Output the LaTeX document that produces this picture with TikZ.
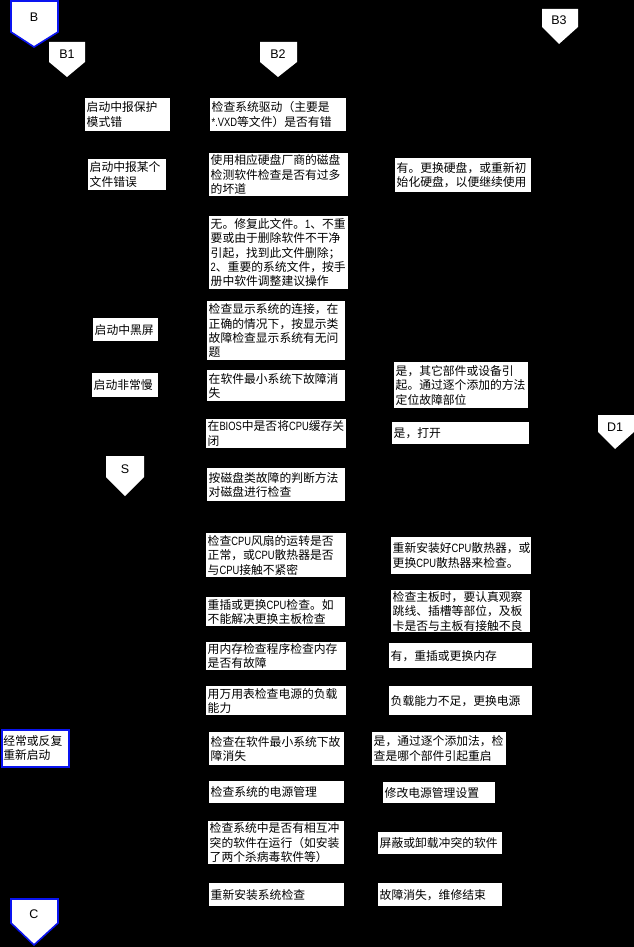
\documentclass[tikz,border=0pt]{standalone}
\usepackage{fontspec}
\usepackage{tikz}
\usetikzlibrary{positioning, calc}
\newfontfamily\cjk{Noto Sans CJK SC}
\newfontfamily\labelfont{Liberation Sans}
\newfontfamily\halfwidth[FakeStretch=0.78]{Liberation Sans}
\newcommand{\hw}[1]{{\halfwidth\fontsize{12}{14.4}\selectfont #1}}
\definecolor{pageblack}{HTML}{000000}
\definecolor{flowblue}{HTML}{0A14F0}

\tikzset{
  stepbox/.style={fill=white, anchor=north west, inner xsep=1.5pt, inner ysep=0pt,
    align=left, text width=#1-3pt, font=\cjk\fontsize{11.8}{14.4}\selectfont},
  bluebox/.style={stepbox=#1, draw=flowblue, line width=1.6pt},
  offpage/.style={fill=white},
  blueoffpage/.style={fill=white, draw=flowblue, line width=1.6pt},
  tag/.style={inner sep=0pt, font=\labelfont\fontsize{12.5}{14}\selectfont}
}

\begin{document}
\begin{tikzpicture}[x=1pt, y=-1pt]
    \fill[pageblack] (0,0) rectangle (634,947);
    \useasboundingbox (0,0) rectangle (634,947);

    % off-page connectors
    \draw[blueoffpage] (11,1) -- (58,1) -- (58,32) -- (34,47) -- (11,32) -- cycle;
    \node[tag] (b) at (34,17) {B};
    \fill[offpage] (49,42) -- (85,42) -- (85,62) -- (67,77) -- (49,62) -- cycle;
    \node[tag] (b1) at (67,54) {B1};
    \fill[offpage] (260,42) -- (297,42) -- (297,62) -- (278,77) -- (260,62) -- cycle;
    \node[tag] (b2) at (278,54) {B2};
    \fill[offpage] (542,9) -- (578,9) -- (578,27) -- (559,44) -- (542,27) -- cycle;
    \node[tag] (b3) at (559,20) {B3};
    \fill[offpage] (598,415) -- (634,415) -- (634,432) -- (615,449) -- (598,432) -- cycle;
    \node[tag] (d1) at (615,427) {D1};
    \fill[offpage] (106,456) -- (144,456) -- (144,477) -- (125,496) -- (106,477) -- cycle;
    \node[tag] (s) at (125,469) {S};
    \draw[blueoffpage] (11,899) -- (58,899) -- (58,923) -- (34,945) -- (11,923) -- cycle;
    \node[tag] (c) at (34,914) {C};

    % left column
    \node[stepbox=85pt, minimum height=33pt] (protect) at (85,98) {启动中报保护\\模式错};
    \node[stepbox=78pt, minimum height=31pt] (fileerr) at (88,159) {启动中报某个\\文件错误};
    \node[stepbox=65pt, minimum height=23pt] (blackscr) at (93,318) {启动中黑屏};
    \node[stepbox=66pt, minimum height=24pt] (slowboot) at (92,373) {启动非常慢};
    \node[bluebox=67pt, minimum height=37pt] (reboot) at (1,729) {经常或反复\\重新启动};

    % middle column
    \node[stepbox=136pt, minimum height=33pt] (driver) at (210,98) {检查系统驱动（主要是\\\hw{*.VXD}等文件）是否有错};
    \node[stepbox=139pt, minimum height=43pt] (disktool) at (209,153) {使用相应硬盘厂商的磁盘\\检测软件检查是否有过多\\的坏道};
    \node[stepbox=139pt, minimum height=73pt] (repairfile) at (209,216) {无。修复此文件。\hw{1}、不重\\要或由于删除软件不干净\\引起，找到此文件删除；\\\hw{2}、重要的系统文件，按手\\册中软件调整建议操作};
    \node[stepbox=138pt, minimum height=59pt] (display) at (207,301) {检查显示系统的连接，在\\正确的情况下，按显示类\\故障检查显示系统有无问\\题};
    \node[stepbox=138pt, minimum height=31pt] (minsys) at (207,370) {在软件最小系统下故障消\\失};
    \node[stepbox=140pt, minimum height=29pt] (bios) at (206,419) {在\hw{BIOS}中是否将\hw{CPU}缓存关\\闭};
    \node[stepbox=138pt, minimum height=33pt] (diskcheck) at (207,468) {按磁盘类故障的判断方法\\对磁盘进行检查};
    \node[stepbox=140pt, minimum height=44pt] (cpufan) at (206,533) {检查\hw{CPU}风扇的运转是否\\正常，或\hw{CPU}散热器是否\\与\hw{CPU}接触不紧密};
    \node[stepbox=139pt, minimum height=29pt] (cpuswap) at (206,597) {重插或更换\hw{CPU}检查。如\\不能解决更换主板检查};
    \node[stepbox=140pt, minimum height=28pt] (memtest) at (206,642) {用内存检查程序检查内存\\是否有故障};
    \node[stepbox=140pt, minimum height=29pt] (meter) at (206,686) {用万用表检查电源的负载\\能力};
    \node[stepbox=135pt, minimum height=33pt] (minsys2) at (209,732) {检查在软件最小系统下故\\障消失};
    \node[stepbox=135pt, minimum height=22pt] (power) at (209,781) {检查系统的电源管理};
    \node[stepbox=136pt, minimum height=43pt] (conflict) at (208,821) {检查系统中是否有相互冲\\突的软件在运行（如安装\\了两个杀病毒软件等）};
    \node[stepbox=135pt, minimum height=23pt] (reinstall) at (209,883) {重新安装系统检查};

    % right column
    \node[stepbox=136pt, minimum height=34pt] (newdisk) at (395,158) {有。更换硬盘，或重新初\\始化硬盘，以便继续使用};
    \node[stepbox=134pt, minimum height=46pt] (otherpart) at (394,362) {是，其它部件或设备引\\起。通过逐个添加的方法\\定位故障部位};
    \node[stepbox=137pt, minimum height=22pt] (cacheon) at (392,422) {是，打开};
    \node[stepbox=140pt, minimum height=37pt] (heatsink) at (391,537) {重新安装好\hw{CPU}散热器，或\\更换\hw{CPU}散热器来检查。};
    \node[stepbox=139pt, minimum height=42pt] (board) at (391,590) {检查主板时，要认真观察\\跳线、插槽等部位，及板\\卡是否与主板有接触不良};
    \node[stepbox=143pt, minimum height=25pt] (memswap) at (389,643) {有，重插或更换内存};
    \node[stepbox=143pt, minimum height=29pt] (psu) at (389,686) {负载能力不足，更换电源};
    \node[stepbox=134pt, minimum height=33pt] (addone) at (372,732) {是，通过逐个添加法，检\\查是哪个部件引起重启};
    \node[stepbox=112pt, minimum height=21pt] (powerset) at (383,782) {修改电源管理设置};
    \node[stepbox=124pt, minimum height=22pt] (unload) at (378,832) {屏蔽或卸载冲突的软件};
    \node[stepbox=124pt, minimum height=23pt] (done) at (378,883) {故障消失，维修结束};
  \end{tikzpicture}
\end{document}
